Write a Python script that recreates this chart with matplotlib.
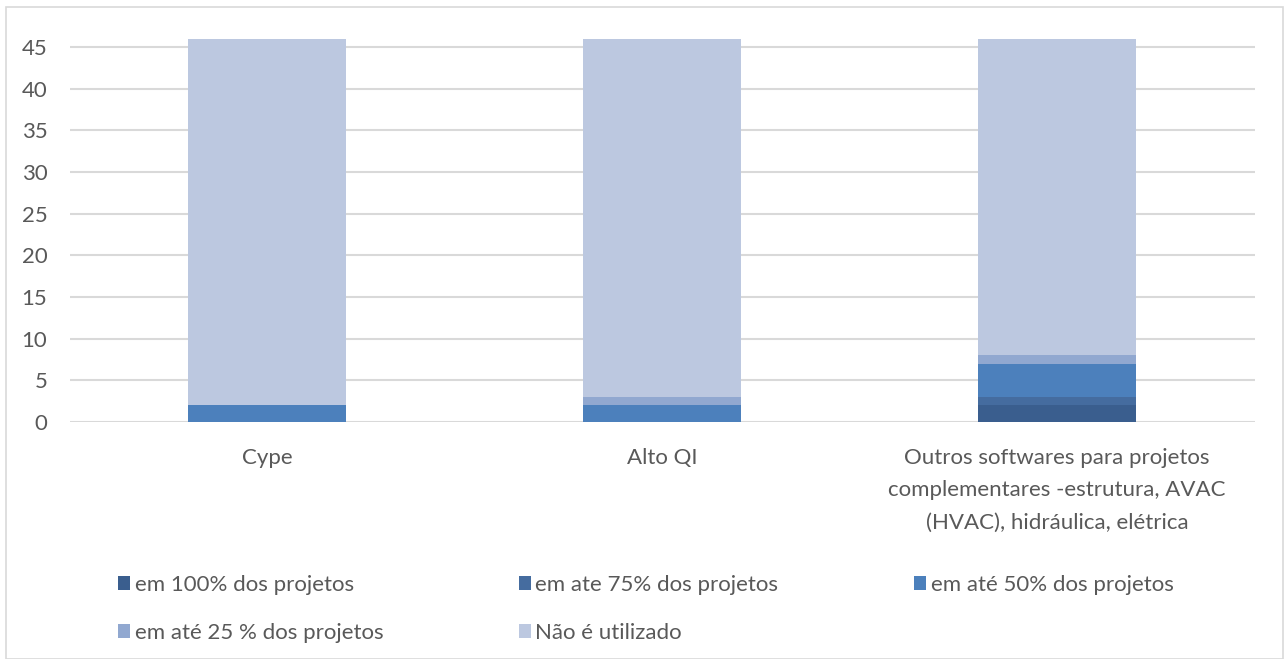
import matplotlib
matplotlib.use("Agg")
import matplotlib.pyplot as plt
from matplotlib.patches import Rectangle
import numpy as np

categories = ["Cype", "Alto QI",
              "Outros softwares para projetos\ncomplementares -estrutura, AVAC\n(HVAC), hidráulica, elétrica"]
series_names = ["em 100% dos projetos", "em ate 75% dos projetos", "em até 50% dos projetos",
                "em até 25 % dos projetos", "Não é utilizado"]
v100 = [0, 0, 2]
v75 = [0, 0, 1]
v50 = [2, 2, 4]
v25 = [0, 1, 1]
vnao = [44, 43, 38]
colors = ["#3A5E8E", "#456C9F", "#4C80BC", "#91A8D0", "#BCC8E0"]
yticks = [0, 5, 10, 15, 20, 25, 30, 35, 40, 45]

plt.rcParams['font.family'] = ['Lato', 'DejaVu Sans']
fig = plt.figure(figsize=(12.84, 6.59), dpi=100)
W, H = 1284, 659
px_per_unit = (422 - 47) / 45
top = 46.0
ax = fig.add_axes([69.5 / W, 1 - 422 / H, (1254.5 - 69.5) / W, top * px_per_unit / H])

x = np.arange(len(categories))
bottom = np.zeros(len(categories))
handles = []
for name, vals, c in zip(series_names, [v100, v75, v50, v25, vnao], colors):
    b = ax.bar(x, vals, 0.4, bottom=bottom, color=c, label=name, zorder=3,
               edgecolor=c, linewidth=0)
    bottom += np.array(vals)
    handles.append(b)

ax.set_xlim(-0.5, 2.5)
ax.set_ylim(0, top)
ax.set_yticks(yticks)
ax.yaxis.grid(True, color="#D9D9D9", linewidth=1.5, zorder=0)
ax.set_axisbelow(True)
for s in ax.spines.values():
    s.set_visible(False)
ax.tick_params(axis='y', length=0, pad=16, labelsize=16, labelcolor="#595959")
ax.tick_params(axis='x', length=0, pad=19, labelsize=16, labelcolor="#595959")
ax.set_xticks(x)
ax.set_xticklabels(categories, linespacing=1.75)

order = [0, 3, 1, 4, 2]
leg = fig.legend([handles[i] for i in order], [series_names[i] for i in order],
                 ncol=3, loc="upper left", bbox_to_anchor=(109 / W, 1 - 566 / H),
                 frameon=False, fontsize=16, labelcolor="#595959",
                 handlelength=0.55, handleheight=0.55, handletextpad=0.2,
                 columnspacing=6.1, labelspacing=1.25, borderaxespad=0)

fig.patches.append(Rectangle((6 / W, 0), (1283 - 6) / W, 1 - 7 / H, transform=fig.transFigure,
                             fill=False, edgecolor="#D9D9D9", linewidth=1.2))
fig.savefig("out.png", dpi=100)
